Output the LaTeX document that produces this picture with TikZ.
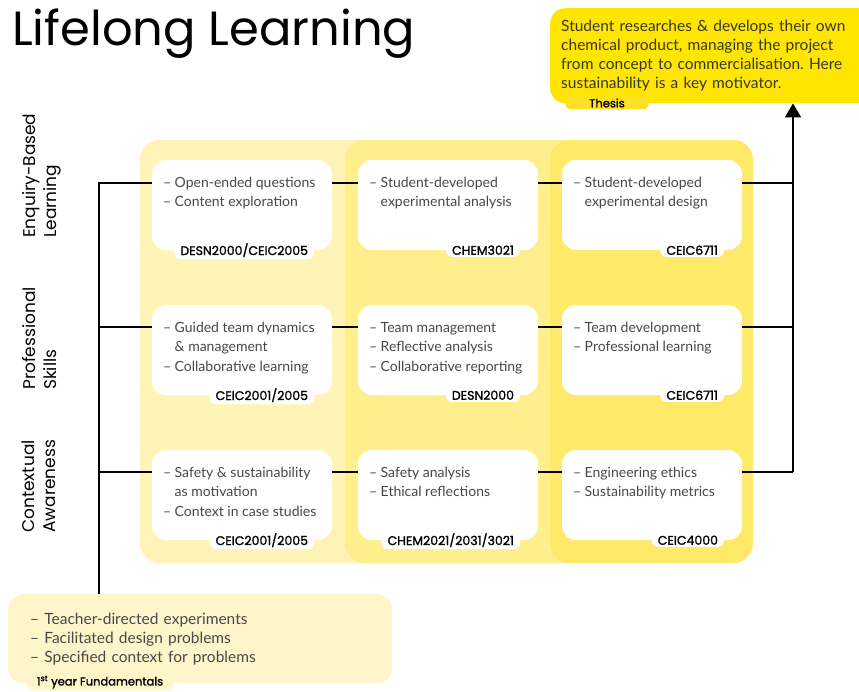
\documentclass[tikz,border=0pt]{standalone}
\usepackage{fontspec}
\setmainfont{Lato}
\newfontfamily\headfont{Poppins}
\newfontfamily\codefont{Poppins}[FakeBold=1.5]
\usetikzlibrary{positioning,arrows.meta}
\frenchspacing
\definecolor{inkgrey}{RGB}{72,72,72}
\definecolor{paleyellow}{RGB}{255,244,181}
\definecolor{midyellow}{RGB}{255,238,140}
\definecolor{deepyellow}{RGB}{255,233,105}
\definecolor{brightyellow}{RGB}{255,230,0}
\definecolor{thesistab}{RGB}{255,224,40}
\definecolor{creamyellow}{RGB}{255,245,203}

\begin{document}
\begin{tikzpicture}[x=1pt,y=-1pt,
	link/.style={line width=1.8pt},
	unitbox/.style={fill=white,rounded corners=14pt,minimum width=180pt,minimum height=90pt,inner sep=0pt},
	items/.style={anchor=north west,inner sep=0pt,align=left,text=inkgrey,font=\fontsize{14}{19.5}\selectfont},
	coursetag/.style={anchor=east,fill=white,rounded corners=6pt,inner xsep=6pt,inner ysep=2pt,font=\codefont\fontsize{12.5}{13}\selectfont},
	strand/.style={anchor=north west,rotate=90,align=left,inner sep=0pt,font=\headfont\fontsize{17}{21}\selectfont},
	tagtab/.style={rounded corners=6pt,inner xsep=10pt,inner ysep=2pt,font=\codefont\fontsize{11.5}{12}\selectfont}]
	\useasboundingbox (0,0) rectangle (859,691);
%	\draw[lightgray] (0,0) grid[step=50pt] (859,691);
	\node[anchor=base west,inner sep=0pt,font=\headfont\fontsize{48}{50}\selectfont] (title) at (12,45) {Lifelong Learning};
	% year panels
	\fill[paleyellow] (140,140) [rounded corners=20pt] rectangle (753,563);
	\fill[midyellow] (345,140) [rounded corners=20pt] rectangle (753,563);
	\fill[deepyellow] (550,140) [rounded corners=20pt] rectangle (753,563);
	% strands
	\node[strand] (ebl) at (22,238) {Enquiry-Based\\Learning};
	\node[strand] (ps) at (22,390) {Professional\\Skills};
	\node[strand] (ca) at (22,533) {Contextual\\Awareness};
	\coordinate (r1) at (99,183);
	\coordinate (r2) at (99,327);
	\coordinate (r3) at (99,472);
	\coordinate (rail) at (793,183);
	% thesis and fundamentals
	\node[anchor=north west,fill=brightyellow,rounded corners=15pt,inner xsep=11pt,text width=303pt,minimum height=95pt,align=left,text={rgb,255:red,55;green,55;blue,40},font=\fontsize{15.5}{19}\selectfont] (thesis) at (550,8)
		{Student researches \& develops their own\\chemical product, managing the project\\from concept to commercialisation. Here\\sustainability is a key motivator.};
	\node[tagtab,fill=thesistab,inner xsep=24pt] (thesistag) at (607,103) {Thesis};
	\node[anchor=north west,fill=creamyellow,rounded corners=15pt,inner xsep=22pt,text width=340pt,minimum height=89pt,align=left,text=inkgrey,font=\fontsize{15.5}{19}\selectfont] (fund) at (8,594)
		{– Teacher-directed experiments\\– Facilitated design problems\\– Specified context for problems};
	\node[tagtab,fill=creamyellow] (fundtag) at (100,682) {1\textsuperscript{st} year Fundamentals};
	% cells
	\node[unitbox] (ebl1) at (242,205) {};
	\node[unitbox] (ebl2) at (448,205) {};
	\node[unitbox] (ebl3) at (652,205) {};
	\node[unitbox] (ps1) at (242,350) {};
	\node[unitbox] (ps2) at (448,350) {};
	\node[unitbox] (ps3) at (652,350) {};
	\node[unitbox] (ca1) at (242,495) {};
	\node[unitbox] (ca2) at (448,495) {};
	\node[unitbox] (ca3) at (652,495) {};
	% links
	\draw[link] (ebl1.west |- r1) -- (r1) -- (r1 |- fund.north);
	\draw[link] (ps1.west |- r2) -- (r2);
	\draw[link] (ca1.west |- r3) -- (r3);
	\draw[link] (ebl1.east |- r1) -- (ebl2.west |- r1);
	\draw[link] (ebl2.east |- r1) -- (ebl3.west |- r1);
	\draw[link] (ps1.east |- r2) -- (ps2.west |- r2);
	\draw[link] (ps2.east |- r2) -- (ps3.west |- r2);
	\draw[link] (ca1.east |- r3) -- (ca2.west |- r3);
	\draw[link] (ca2.east |- r3) -- (ca3.west |- r3);
	\draw[link] (ebl3.east |- r1) -- (rail);
	\draw[link] (ps3.east |- r2) -- (rail |- r2);
	\draw[link] (ca3.east |- r3) -- (rail |- r3);
	\draw[link,-{Triangle[width=16pt,length=14pt]}] (rail |- r3) -- (rail |- thesis.south);
	% cell texts
	\node[items] (ebl1t) at ([shift={(11pt,-17pt)}]ebl1.north west) {– Open-ended questions\\– Content exploration};
	\node[items] (ebl2t) at ([shift={(11pt,-17pt)}]ebl2.north west) {– Student-developed\\\hphantom{– }experimental analysis};
	\node[items] (ebl3t) at ([shift={(11pt,-17pt)}]ebl3.north west) {– Student-developed\\\hphantom{– }experimental design};
	\node[items] (ps1t) at ([shift={(11pt,-17pt)}]ps1.north west) {– Guided team dynamics\\\hphantom{– }\& management\\– Collaborative learning};
	\node[items] (ps2t) at ([shift={(11pt,-17pt)}]ps2.north west) {– Team management\\– Reflective analysis\\– Collaborative reporting};
	\node[items] (ps3t) at ([shift={(11pt,-17pt)}]ps3.north west) {– Team development\\– Professional learning};
	\node[items] (ca1t) at ([shift={(11pt,-17pt)}]ca1.north west) {– Safety \& sustainability\\\hphantom{– }as motivation\\– Context in case studies};
	\node[items] (ca2t) at ([shift={(11pt,-17pt)}]ca2.north west) {– Safety analysis\\– Ethical reflections};
	\node[items] (ca3t) at ([shift={(11pt,-17pt)}]ca3.north west) {– Engineering ethics\\– Sustainability metrics};
	% course codes
	\node[coursetag] (ebl1c) at ([xshift=-18pt]ebl1.south east) {DESN2000/CEIC2005};
	\node[coursetag] (ebl2c) at ([xshift=-18pt]ebl2.south east) {CHEM3021};
	\node[coursetag] (ebl3c) at ([xshift=-18pt]ebl3.south east) {CEIC6711};
	\node[coursetag] (ps1c) at ([xshift=-18pt]ps1.south east) {CEIC2001/2005};
	\node[coursetag] (ps2c) at ([xshift=-18pt]ps2.south east) {DESN2000};
	\node[coursetag] (ps3c) at ([xshift=-18pt]ps3.south east) {CEIC6711};
	\node[coursetag] (ca1c) at ([xshift=-18pt]ca1.south east) {CEIC2001/2005};
	\node[coursetag] (ca2c) at ([xshift=-18pt]ca2.south east) {CHEM2021/2031/3021};
	\node[coursetag] (ca3c) at ([xshift=-18pt]ca3.south east) {CEIC4000};
\end{tikzpicture}
\end{document}
